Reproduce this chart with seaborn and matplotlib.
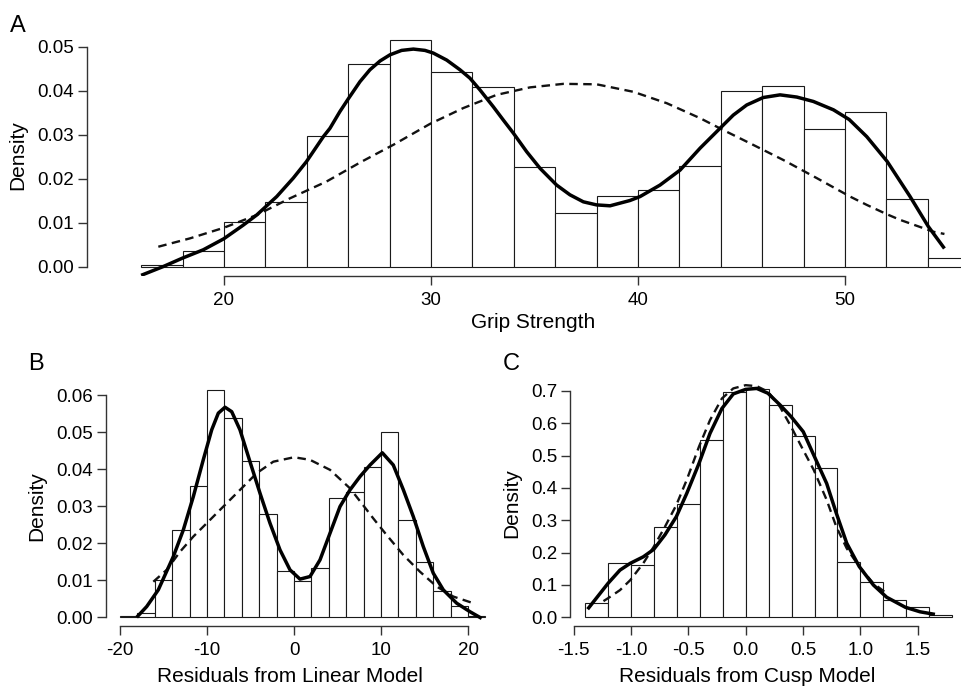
import numpy as np
import pandas as pd
import matplotlib
matplotlib.use("Agg")
import matplotlib.pyplot as plt
import seaborn as sns

# ---------------- data ----------------
# Panel A: Grip Strength
A_edges = [16, 18, 20, 22, 24, 26, 28, 30, 32, 34, 36, 38, 40, 42, 44, 46, 48, 50, 52, 54, 56]
A_density = [0.0005, 0.0036, 0.0102, 0.0148, 0.0298, 0.0460, 0.0515, 0.0443, 0.0410, 0.0226,
             0.0123, 0.0161, 0.0176, 0.0230, 0.0400, 0.0411, 0.0314, 0.0352, 0.0155, 0.0020]
A_solid_x = [16.0, 17.07, 17.99, 19.0, 19.99, 20.93, 21.58, 22.55, 23.35, 23.98, 24.8, 25.12,
             25.6, 26.02, 26.57, 27.05, 27.54, 28.02, 28.58, 29.15, 29.71, 30.11, 30.76, 31.40,
             31.88, 32.37, 33.01, 33.49, 33.98, 34.62, 35.27, 36.07, 36.71, 37.36, 38.0, 38.65,
             39.13, 39.61, 40.1, 41.06, 42.03, 43.0, 43.96, 44.6, 45.25, 46.05, 46.86, 47.67,
             48.47, 49.44, 50.2, 51.05, 52.03, 53.14, 54.02, 54.8]
A_solid_y = [-0.0019, 0.0001, 0.0020, 0.0039, 0.0064, 0.0095, 0.0118, 0.0160, 0.0202, 0.0239,
             0.0296, 0.0315, 0.0353, 0.0383, 0.0421, 0.0448, 0.0468, 0.0482, 0.0492, 0.0495,
             0.0492, 0.0486, 0.0470, 0.0448, 0.0429, 0.0402, 0.0364, 0.0334, 0.0304, 0.0262,
             0.0224, 0.0186, 0.0164, 0.0148, 0.0141, 0.0139, 0.0145, 0.0151, 0.0160, 0.0186,
             0.0220, 0.0270, 0.0315, 0.0345, 0.0368, 0.0385, 0.0391, 0.0386, 0.0376, 0.0357,
             0.0335, 0.0296, 0.0240, 0.0160, 0.0092, 0.0042]
A_dash_x = [16.83, 18.36, 19.99, 21.58, 23.19, 24.95, 26.6, 28.2, 29.95, 31.56, 33.17, 34.78,
            36.39, 38.0, 39.77, 41.39, 43.0, 44.12, 45.41, 47.02, 48.63, 50.24, 51.05, 52.01,
            52.66, 54.27, 54.8]
A_dash_y = [0.0046, 0.0065, 0.0089, 0.0118, 0.0156, 0.0194, 0.0238, 0.0278, 0.0325, 0.0361,
            0.0391, 0.0408, 0.0416, 0.0415, 0.0398, 0.0372, 0.0338, 0.0311, 0.0281, 0.0243,
            0.0202, 0.0160, 0.0141, 0.0120, 0.0107, 0.0080, 0.0075]
A_xticks = [20, 30, 40, 50]
A_yticks = [0.00, 0.01, 0.02, 0.03, 0.04, 0.05]

# Panel B: Residuals from Linear Model
B_edges = [-20, -18, -16, -14, -12, -10, -8, -6, -4, -2, 0, 2, 4, 6, 8, 10, 12, 14, 16, 18, 20, 22]
B_density = [0.0004, 0.0012, 0.0101, 0.0236, 0.0355, 0.0614, 0.0539, 0.0422, 0.0278, 0.0125,
             0.0098, 0.0134, 0.0323, 0.0338, 0.0406, 0.0501, 0.0262, 0.0149, 0.0071, 0.0031, 0.0004]
B_solid_x = [-18.08, -16.93, -15.6, -13.87, -12.72, -11.57, -10.43, -9.46, -8.7, -7.93, -7.16,
             -6.21, -5.06, -3.91, -2.76, -1.61, -0.46, 0.69, 1.84, 2.99, 4.14, 5.29, 6.44, 7.59,
             8.74, 10.15, 11.41, 12.57, 13.71, 14.86, 16.01, 17.16, 18.7, 20.23, 21.57]
B_solid_y = [0.0, 0.0029, 0.0074, 0.0164, 0.0236, 0.0326, 0.0425, 0.0506, 0.0551, 0.0567, 0.0555,
             0.0506, 0.0420, 0.0335, 0.0254, 0.0182, 0.0128, 0.0103, 0.0110, 0.0155, 0.0227,
             0.0299, 0.0344, 0.0380, 0.0411, 0.0444, 0.0411, 0.0344, 0.0272, 0.0191, 0.0119,
             0.0074, 0.0038, 0.0015, -0.0003]
B_dash_x = [-16.17, -14.63, -13.1, -11.57, -10.03, -8.12, -6.2, -4.29, -2.38, 0.0, 1.84, 4.14,
            6.44, 8.36, 9.11, 10.65, 12.57, 14.48, 16.4, 18.31, 20.61]
B_dash_y = [0.0096, 0.0128, 0.0177, 0.0218, 0.0254, 0.0299, 0.0344, 0.0389, 0.0420, 0.0432,
            0.0425, 0.0398, 0.0348, 0.0290, 0.0267, 0.0222, 0.0168, 0.0123, 0.0083, 0.0056, 0.0038]
B_xticks = [-20, -10, 0, 10, 20]
B_yticks = [0.00, 0.01, 0.02, 0.03, 0.04, 0.05, 0.06]

# Panel C: Residuals from Cusp Model
C_edges = [-1.4, -1.2, -1.0, -0.8, -0.6, -0.4, -0.2, 0.0, 0.2, 0.4, 0.6, 0.8, 1.0, 1.2, 1.4, 1.6, 1.8]
C_density = [0.043, 0.169, 0.161, 0.278, 0.351, 0.549, 0.696, 0.705, 0.657, 0.560, 0.461,
             0.172, 0.109, 0.054, 0.033, 0.007]
C_solid_x = [-1.378, -1.2, -1.096, -1.006, -0.893, -0.802, -0.704, -0.605, -0.514, -0.407,
             -0.311, -0.207, -0.108, 0.0, 0.096, 0.194, 0.299, 0.395, 0.502, 0.593, 0.706,
             0.790, 0.881, 0.990, 1.113, 1.229, 1.392, 1.520, 1.650]
C_solid_y = [0.025, 0.105, 0.146, 0.167, 0.187, 0.210, 0.255, 0.311, 0.383, 0.476, 0.569,
             0.646, 0.691, 0.705, 0.708, 0.693, 0.657, 0.621, 0.574, 0.502, 0.414, 0.322,
             0.229, 0.157, 0.100, 0.062, 0.031, 0.017, 0.009]
C_dash_x = [-1.24, -1.2, -1.096, -1.006, -0.893, -0.802, -0.704, -0.605, -0.514, -0.407,
            -0.311, -0.207, -0.108, 0.0, 0.096, 0.194, 0.299, 0.395, 0.502, 0.593, 0.706,
            0.790, 0.881, 0.990, 1.113, 1.229]
C_dash_y = [0.050, 0.059, 0.084, 0.115, 0.167, 0.218, 0.280, 0.347, 0.425, 0.528, 0.610,
            0.677, 0.708, 0.718, 0.715, 0.698, 0.651, 0.590, 0.517, 0.456, 0.363, 0.280,
            0.213, 0.157, 0.105, 0.074]
C_xticks = [-1.5, -1.0, -0.5, 0.0, 0.5, 1.0, 1.5]
C_yticks = [0.0, 0.1, 0.2, 0.3, 0.4, 0.5, 0.6, 0.7]

# ---------------- style ----------------
sns.set_style("ticks")
plt.rcParams['font.family'] = ['Liberation Sans', 'DejaVu Sans']

W, H = 961, 687
fig = plt.figure(figsize=(W / 100, H / 100), dpi=100)
fig.patch.set_facecolor("white")

AX_COLOR = "#333333"


def px_axes(left, right, top, bottom):
    return fig.add_axes([left / W, 1 - bottom / H, (right - left) / W, (bottom - top) / H])


def ftext(x, y, s, **kw):
    fig.text(x / W, 1 - y / H, s, **kw)


def panel(ax, edges, dens, sx, sy, dx, dy, xlim, ylim, xticks, yticks, xfmt, yfmt):
    edge_list = [float(e) for e in edges]
    centers = [(edge_list[i] + edge_list[i + 1]) / 2 for i in range(len(edge_list) - 1)]
    df = pd.DataFrame({"x": centers, "w": list(dens)})
    sns.histplot(data=df, x="x", weights="w", bins=edge_list, stat="count", ax=ax,
                 color="white", edgecolor="#1a1a1a", linewidth=0.8, alpha=1.0)
    sns.lineplot(x=dx, y=dy, ax=ax, color="#111111", linewidth=1.7, sort=False,
                 estimator=None, linestyle=(0, (3.6, 2.3)), dash_joinstyle="round")
    sns.lineplot(x=sx, y=sy, ax=ax, color="black", linewidth=2.5, sort=False,
                 estimator=None, solid_joinstyle="round", solid_capstyle="butt")
    ax.set_xlim(*xlim)
    ax.set_ylim(*ylim)
    ax.set_xticks(xticks)
    ax.set_yticks(yticks)
    ax.set_xticklabels([xfmt(v) for v in xticks])
    ax.set_yticklabels([yfmt(v) for v in yticks])
    ax.set_xlabel("")
    ax.set_ylabel("")
    sns.despine(ax=ax)
    ax.spines["left"].set_bounds(yticks[0], yticks[-1])
    ax.spines["bottom"].set_bounds(xticks[0], xticks[-1])
    for s in ("left", "bottom"):
        ax.spines[s].set_color(AX_COLOR)
        ax.spines[s].set_linewidth(1.0)
    ax.tick_params(axis="both", direction="out", length=6.5, width=1.0, color=AX_COLOR,
                   labelsize=13.5, labelcolor="black")
    ax.tick_params(axis="x", pad=5)
    ax.tick_params(axis="y", pad=3)
    ax.patch.set_alpha(0)


# Panel A
axA = px_axes(87.3, 961, 35, 276)
panel(axA, A_edges, A_density, A_solid_x, A_solid_y, A_dash_x, A_dash_y,
      (13.4, 55.6), (-0.00205, 0.0527), A_xticks, A_yticks,
      lambda v: f"{v:d}", lambda v: f"{v:.2f}")

# Panel B
axB = px_axes(106, 489.75, 385, 625.7)
panel(axB, B_edges, B_density, B_solid_x, B_solid_y, B_dash_x, B_dash_y,
      (-21.61, 22.5), (-0.00227, 0.0627), B_xticks, B_yticks,
      lambda v: f"{v:d}", lambda v: f"{v:.2f}")

# Panel C
axC = px_axes(570.3, 957.9, 380, 625.7)
panel(axC, C_edges, C_density, C_solid_x, C_solid_y, C_dash_x, C_dash_y,
      (-1.529, 1.85), (-0.026, 0.734), C_xticks, C_yticks,
      lambda v: f"{v:.1f}", lambda v: f"{v:.1f}")

# labels
lab = dict(fontsize=15, color="black", ha="center", va="center")
ftext(533.5, 323, "Grip Strength", **lab)
ftext(290, 676, "Residuals from Linear Model", **lab)
ftext(746.8, 676, "Residuals from Cusp Model", **lab)
ftext(18, 155, "Density", rotation=90, **lab)
ftext(37, 506, "Density", rotation=90, **lab)
ftext(512, 503, "Density", rotation=90, **lab)

let = dict(fontsize=17, color="black", ha="left", va="baseline")
ftext(10, 31.7, "A", **let)
ftext(28, 370, "B", **let)
ftext(503, 370, "C", **let)

fig.savefig("out.png", dpi=100, facecolor="white")
